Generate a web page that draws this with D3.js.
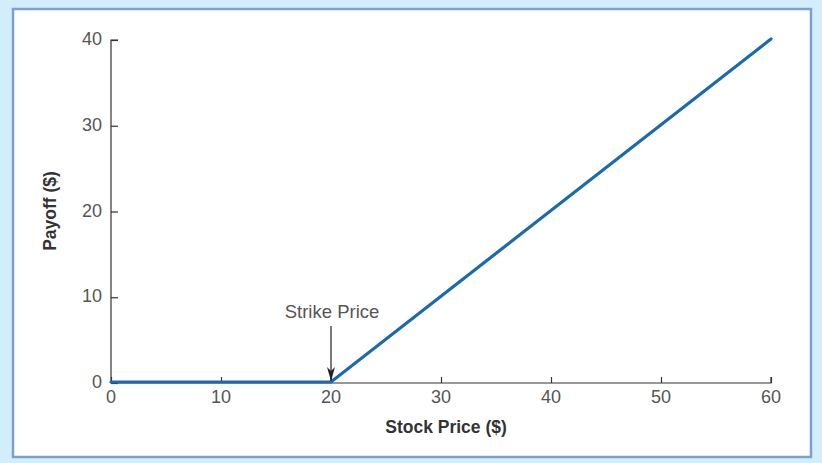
<!DOCTYPE html>
<html>
<head>
<meta charset="utf-8">
<script src="https://cdn.jsdelivr.net/npm/d3@7"></script>
<style>
  body { margin: 0; background: #d3eefa; }
  svg { display: block; font-family: "Liberation Sans", Arial, sans-serif; }
</style>
</head>
<body>
<svg id="chart" width="822" height="463"></svg>
<script>
'use strict';

// Payoff of a call option with strike 20
const stockPrices = [0, 20, 60];
const payoffs     = [0, 0, 40];
const xTicks      = [0, 10, 20, 30, 40, 50, 60];
const yTicks      = [0, 10, 20, 30, 40];
const strikePrice = 20;

const svg = d3.select('#chart');

// ── Panel ─────────────────────────────────────────────────────
svg.append('rect')
  .attr('x', 13).attr('y', 9)
  .attr('width', 798).attr('height', 448)
  .attr('fill', '#fff')
  .attr('stroke', '#7d9fd2')
  .attr('stroke-width', 2.5);

const x = d3.scaleLinear().domain([0, 60]).range([111, 771]);
const y = d3.scaleLinear().domain([0, 40]).range([383, 40]);

// ── Axes ──────────────────────────────────────────────────────
const xAxis = svg.append('g')
  .attr('transform', `translate(0,${y(0)})`)
  .call(d3.axisTop(x).tickValues(xTicks).tickSize(6).tickFormat(() => ''));
xAxis.selectAll('text').remove();
xAxis.select('.domain').attr('d', `M${x(0)},0H${x(60)}V-6`);

svg.append('g').selectAll('text')
  .data(xTicks)
  .join('text')
    .attr('x', d => x(d))
    .attr('y', y(0) + 20)
    .attr('text-anchor', 'middle')
    .attr('font-size', 18)
    .attr('fill', '#555')
    .text(d => d);

const yAxis = svg.append('g')
  .attr('transform', `translate(${x(0)},0)`)
  .call(d3.axisRight(y).tickValues(yTicks).tickSize(7).tickFormat(() => ''));
yAxis.selectAll('text').remove();
yAxis.select('.domain').attr('d', `M7,${y(40)}H0V${y(0)}`);

svg.append('g').selectAll('text')
  .data(yTicks)
  .join('text')
    .attr('x', x(0) - 9)
    .attr('y', d => y(d) + 5)
    .attr('text-anchor', 'end')
    .attr('font-size', 18)
    .attr('fill', '#555')
    .text(d => d);

svg.selectAll('.domain, .tick line').attr('stroke', '#333').attr('stroke-width', 1.2);

// ── Axis titles ───────────────────────────────────────────────
svg.append('text')
  .attr('x', 446).attr('y', 433)
  .attr('text-anchor', 'middle')
  .attr('font-size', 17.5)
  .attr('font-weight', 'bold')
  .attr('fill', '#333')
  .text('Stock Price ($)');

svg.append('text')
  .attr('transform', 'translate(56,211) rotate(-90)')
  .attr('text-anchor', 'middle')
  .attr('font-size', 17.5)
  .attr('font-weight', 'bold')
  .attr('fill', '#333')
  .text('Payoff ($)');

// ── Payoff line ───────────────────────────────────────────────
const line = d3.line()
  .x((d, i) => x(d))
  .y((d, i) => y(payoffs[i]) - 1);

svg.append('path')
  .datum(stockPrices)
  .attr('d', line)
  .attr('fill', 'none')
  .attr('stroke', '#1a6aae')
  .attr('stroke-width', 3.2)
  .attr('stroke-linecap', 'round');

// ── Strike price annotation ───────────────────────────────────
svg.append('defs').append('marker')
  .attr('id', 'arrowhead')
  .attr('viewBox', '0 -4 14 8')
  .attr('refX', 14)
  .attr('refY', 0)
  .attr('markerWidth', 14)
  .attr('markerHeight', 8)
  .attr('markerUnits', 'userSpaceOnUse')
  .attr('orient', 'auto')
  .append('path')
    .attr('d', 'M0,-4L14,0L0,4L4,0Z')
    .attr('fill', '#222');

svg.append('line')
  .attr('x1', x(strikePrice)).attr('y1', 326)
  .attr('x2', x(strikePrice)).attr('y2', y(0) - 2)
  .attr('stroke', '#222')
  .attr('stroke-width', 1.2)
  .attr('marker-end', 'url(#arrowhead)');

svg.append('text')
  .attr('x', x(strikePrice) + 1).attr('y', 318)
  .attr('text-anchor', 'middle')
  .attr('font-size', 18.5)
  .attr('fill', '#555')
  .text('Strike Price');
</script>
</body>
</html>
